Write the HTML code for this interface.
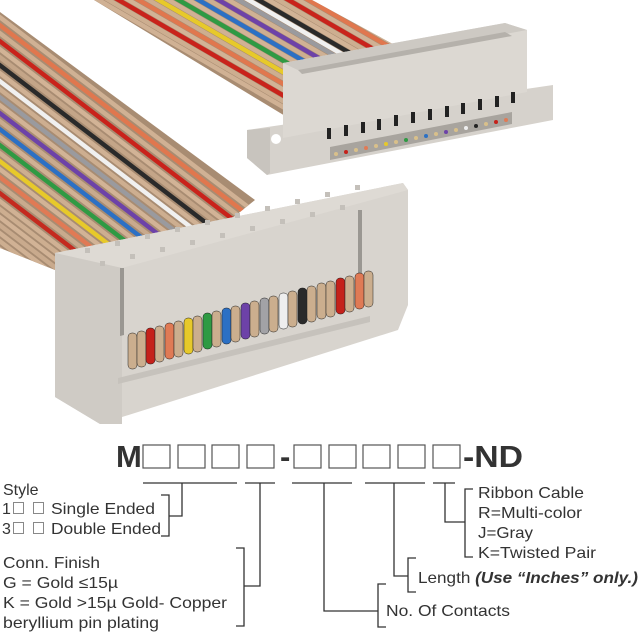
<!DOCTYPE html>
<html><head><meta charset="utf-8"><style>
html,body{margin:0;padding:0;background:#fff;width:640px;height:640px;overflow:hidden}
svg{display:block}
text{font-family:"Liberation Sans",sans-serif;fill:#333}
</style></head><body>
<svg width="640" height="640" viewBox="0 0 640 640" xmlns="http://www.w3.org/2000/svg">
<defs>
<clipPath id="cl"><polygon points="0,12 255,200 130,300 0,248"/></clipPath>
<clipPath id="cu"><polygon points="94,0 312,0 400,48 300,125"/></clipPath>
</defs>
<!-- left cable -->
<g clip-path="url(#cl)" stroke-width="4.5" fill="none" stroke-linecap="round">
<rect x="0" y="0" width="300" height="300" fill="#a88c72" stroke="none"/>
<line x1="-20" y1="2" x2="320" y2="262" stroke="#d0b194"/>
<line x1="-20" y1="10" x2="320" y2="270" stroke="#e0774e"/>
<line x1="-20" y1="18" x2="320" y2="278" stroke="#cdae90"/>
<line x1="-20" y1="26" x2="320" y2="286" stroke="#c9231b"/>
<line x1="-20" y1="34" x2="320" y2="294" stroke="#d2b396"/>
<line x1="-20" y1="42" x2="320" y2="302" stroke="#c4a588"/>
<line x1="-20" y1="50" x2="320" y2="310" stroke="#2a2a2a"/>
<line x1="-20" y1="58" x2="320" y2="318" stroke="#d0b194"/>
<line x1="-20" y1="66" x2="320" y2="326" stroke="#f0f0f0"/>
<line x1="-20" y1="74" x2="320" y2="334" stroke="#cdae90"/>
<line x1="-20" y1="82" x2="320" y2="342" stroke="#9a9a9e"/>
<line x1="-20" y1="90" x2="320" y2="350" stroke="#d2b396"/>
<line x1="-20" y1="98" x2="320" y2="358" stroke="#6d42a8"/>
<line x1="-20" y1="106" x2="320" y2="366" stroke="#c9aa8d"/>
<line x1="-20" y1="114" x2="320" y2="374" stroke="#2c70c4"/>
<line x1="-20" y1="122" x2="320" y2="382" stroke="#d0b194"/>
<line x1="-20" y1="130" x2="320" y2="390" stroke="#2f9a43"/>
<line x1="-20" y1="138" x2="320" y2="398" stroke="#cdae90"/>
<line x1="-20" y1="146" x2="320" y2="406" stroke="#e7c92a"/>
<line x1="-20" y1="154" x2="320" y2="414" stroke="#d2b396"/>
<line x1="-20" y1="162" x2="320" y2="422" stroke="#e07a55"/>
<line x1="-20" y1="170" x2="320" y2="430" stroke="#c9aa8d"/>
<line x1="-20" y1="178" x2="320" y2="438" stroke="#c42a1f"/>
<line x1="-20" y1="186" x2="320" y2="446" stroke="#d0b194"/>
<line x1="-20" y1="194" x2="320" y2="454" stroke="#cdae90"/>
<line x1="-20" y1="202" x2="320" y2="462" stroke="#d2b396"/>
<line x1="-20" y1="210" x2="320" y2="470" stroke="#c9aa8d"/>
<line x1="-20" y1="218" x2="320" y2="478" stroke="#d0b194"/>
<line x1="-20" y1="226" x2="320" y2="486" stroke="#cdae90"/>
<line x1="-20" y1="234" x2="320" y2="494" stroke="#d2b396"/>
<line x1="-20" y1="242" x2="320" y2="502" stroke="#c9aa8d"/>
</g>
<!-- upper cable -->
<g clip-path="url(#cu)" stroke-width="4.5" fill="none">
<rect x="90" y="0" width="320" height="130" fill="#a88c72" stroke="none"/>
<line x1="90" y1="-5" x2="340" y2="140" stroke="#d0b194"/>
<line x1="100" y1="-5" x2="350" y2="140" stroke="#cdae90"/>
<line x1="110" y1="-5" x2="360" y2="140" stroke="#c9231b"/>
<line x1="120" y1="-5" x2="370" y2="140" stroke="#d2b396"/>
<line x1="130" y1="-5" x2="380" y2="140" stroke="#e0774e"/>
<line x1="140" y1="-5" x2="390" y2="140" stroke="#cdae90"/>
<line x1="150" y1="-5" x2="400" y2="140" stroke="#e7c92a"/>
<line x1="160" y1="-5" x2="410" y2="140" stroke="#d0b194"/>
<line x1="170" y1="-5" x2="420" y2="140" stroke="#2f9a43"/>
<line x1="180" y1="-5" x2="430" y2="140" stroke="#d2b396"/>
<line x1="190" y1="-5" x2="440" y2="140" stroke="#2c70c4"/>
<line x1="200" y1="-5" x2="450" y2="140" stroke="#cdae90"/>
<line x1="210" y1="-5" x2="460" y2="140" stroke="#6d42a8"/>
<line x1="220" y1="-5" x2="470" y2="140" stroke="#d0b194"/>
<line x1="230" y1="-5" x2="480" y2="140" stroke="#9a9a9e"/>
<line x1="240" y1="-5" x2="490" y2="140" stroke="#f0f0f0"/>
<line x1="250" y1="-5" x2="500" y2="140" stroke="#2a2a2a"/>
<line x1="260" y1="-5" x2="510" y2="140" stroke="#d2b396"/>
<line x1="270" y1="-5" x2="520" y2="140" stroke="#cdae90"/>
<line x1="280" y1="-5" x2="530" y2="140" stroke="#c9231b"/>
<line x1="290" y1="-5" x2="540" y2="140" stroke="#d0b194"/>
<line x1="300" y1="-5" x2="550" y2="140" stroke="#e0774e"/>
<line x1="310" y1="-5" x2="560" y2="140" stroke="#d2b396"/>
</g>
<!-- top connector -->
<polygon points="247,130 553,85 553,120 267,175 247,158" fill="#d6d2cc"/>
<polygon points="247,130 270,128 270,173 267,175 247,158" fill="#c8c4be"/>
<circle cx="276" cy="139" r="5" fill="#fff"/>
<polygon points="283,63 505,23 527,30 527,92 283,138" fill="#dcd8d2"/>
<polygon points="283,63 505,23 527,30 302,72" fill="#cdc9c3"/>
<polygon points="298,70 505,32 512,36 302,74" fill="#b5b1ab"/>
<polygon points="330,147 512,112 512,124 330,160" fill="#a8a49e"/>
<g fill="#d9c08a">
<circle cx="336" cy="154" r="2"/><circle cx="346" cy="152" r="2" fill="#c5211a"/><circle cx="356" cy="150" r="2"/><circle cx="366" cy="148" r="2" fill="#e07a55"/><circle cx="376" cy="146" r="2"/><circle cx="386" cy="144" r="2" fill="#e7c92a"/><circle cx="396" cy="142" r="2"/><circle cx="406" cy="140" r="2" fill="#2f9a43"/><circle cx="416" cy="138" r="2"/><circle cx="426" cy="136" r="2" fill="#2c70c4"/><circle cx="436" cy="134" r="2"/><circle cx="446" cy="132" r="2" fill="#6d42a8"/><circle cx="456" cy="130" r="2"/><circle cx="466" cy="128" r="2" fill="#eee"/><circle cx="476" cy="126" r="2" fill="#222"/><circle cx="486" cy="124" r="2"/><circle cx="496" cy="122" r="2" fill="#c5211a"/><circle cx="506" cy="120" r="2" fill="#e07a55"/>
</g>
<g fill="#222">
<rect x="327" y="128" width="4" height="11"/><rect x="344" y="125" width="4" height="11"/><rect x="361" y="122" width="4" height="11"/><rect x="377" y="119" width="4" height="11"/><rect x="394" y="115" width="4" height="11"/><rect x="411" y="112" width="4" height="11"/><rect x="428" y="109" width="4" height="11"/><rect x="445" y="106" width="4" height="11"/><rect x="461" y="103" width="4" height="11"/><rect x="478" y="99" width="4" height="11"/><rect x="495" y="96" width="4" height="11"/><rect x="511" y="92" width="4" height="11"/>
</g>
<!-- bottom connector -->
<polygon points="55,253 403,183 408,190 408,305 398,330 100,424 55,397" fill="#d8d4ce"/>
<polygon points="55,253 403,183 408,190 122,268" fill="#dedad4"/>
<polygon points="55,253 122,268 122,424 100,424 55,397" fill="#cfcbc5"/>
<polygon points="120,268 124,268 124,335 120,336" fill="#9a9792"/>
<polygon points="358,210 362,210 362,280 358,280" fill="#9a9792"/>
<g fill="#c4c0ba">
<rect x="85" y="248" width="5" height="5"/><rect x="115" y="241" width="5" height="5"/><rect x="145" y="234" width="5" height="5"/><rect x="175" y="227" width="5" height="5"/><rect x="205" y="220" width="5" height="5"/><rect x="235" y="213" width="5" height="5"/><rect x="265" y="206" width="5" height="5"/><rect x="295" y="199" width="5" height="5"/><rect x="325" y="192" width="5" height="5"/><rect x="355" y="185" width="5" height="5"/>
<rect x="100" y="261" width="5" height="5"/><rect x="130" y="254" width="5" height="5"/><rect x="160" y="247" width="5" height="5"/><rect x="190" y="240" width="5" height="5"/><rect x="220" y="233" width="5" height="5"/><rect x="250" y="226" width="5" height="5"/><rect x="280" y="219" width="5" height="5"/><rect x="310" y="212" width="5" height="5"/><rect x="340" y="205" width="5" height="5"/>
</g>
<polygon points="118,378 370,316 370,322 118,384" fill="#c6c2bc"/>
<g stroke="#222" stroke-width="0.5">
<rect x="128" y="333" width="9" height="36" rx="4" fill="#cbae8e"/>
<rect x="137" y="331" width="9" height="36" rx="4" fill="#cbae8e"/>
<rect x="146" y="328" width="9" height="36" rx="4" fill="#c5211a"/>
<rect x="155" y="326" width="9" height="36" rx="4" fill="#cbae8e"/>
<rect x="165" y="323" width="9" height="36" rx="4" fill="#e07a55"/>
<rect x="174" y="321" width="9" height="36" rx="4" fill="#cbae8e"/>
<rect x="184" y="318" width="9" height="36" rx="4" fill="#e7c92a"/>
<rect x="193" y="316" width="9" height="36" rx="4" fill="#cbae8e"/>
<rect x="203" y="313" width="9" height="36" rx="4" fill="#2f9a43"/>
<rect x="212" y="311" width="9" height="36" rx="4" fill="#cbae8e"/>
<rect x="222" y="308" width="9" height="36" rx="4" fill="#2c70c4"/>
<rect x="231" y="306" width="9" height="36" rx="4" fill="#cbae8e"/>
<rect x="241" y="303" width="9" height="36" rx="4" fill="#6d42a8"/>
<rect x="250" y="301" width="9" height="36" rx="4" fill="#cbae8e"/>
<rect x="260" y="298" width="9" height="36" rx="4" fill="#a2a2a6"/>
<rect x="269" y="296" width="9" height="36" rx="4" fill="#cbae8e"/>
<rect x="279" y="293" width="9" height="36" rx="4" fill="#eeeeee"/>
<rect x="288" y="291" width="9" height="36" rx="4" fill="#cbae8e"/>
<rect x="298" y="288" width="9" height="36" rx="4" fill="#2a2a2a"/>
<rect x="307" y="286" width="9" height="36" rx="4" fill="#cbae8e"/>
<rect x="317" y="283" width="9" height="36" rx="4" fill="#cbae8e"/>
<rect x="326" y="281" width="9" height="36" rx="4" fill="#cbae8e"/>
<rect x="336" y="278" width="9" height="36" rx="4" fill="#c5211a"/>
<rect x="345" y="276" width="9" height="36" rx="4" fill="#cbae8e"/>
<rect x="355" y="273" width="9" height="36" rx="4" fill="#e07a55"/>
<rect x="364" y="271" width="9" height="36" rx="4" fill="#cbae8e"/>
</g>
<!-- part number -->
<g font-weight="bold" font-size="31">
<text x="116" y="467">M</text>
<text x="280" y="467">-</text>
<text x="463" y="467" textLength="60" lengthAdjust="spacingAndGlyphs">-ND</text>
</g>
<g fill="none" stroke="#555" stroke-width="1.2">
<rect x="143" y="445" width="27" height="23"/><rect x="178" y="445" width="27" height="23"/><rect x="212" y="445" width="27" height="23"/><rect x="247" y="445" width="27" height="23"/>
<rect x="294" y="445" width="27" height="23"/><rect x="329" y="445" width="27" height="23"/><rect x="363" y="445" width="27" height="23"/><rect x="398" y="445" width="27" height="23"/><rect x="433" y="445" width="27" height="23"/>
</g>
<g fill="none" stroke="#333" stroke-width="1.3">
<path d="M143,483H237M245,483H275M292,483H352M365,483H425M433,483H455"/>
<path d="M182,483V516H169M161,495H169V536H161"/>
<path d="M260,483V586H244M236,548H244V626H236"/>
<path d="M324,483V611H378M386,584H378V627H386"/>
<path d="M394,483V576H408M416,558H408V592H416"/>
<path d="M445,483V522H465M473,489H465V557H473"/>
</g>
<g font-size="16">
<text x="3" y="495">Style</text>
<text x="2" y="514">1</text><text x="51" y="514" textLength="104" lengthAdjust="spacingAndGlyphs">Single Ended</text>
<text x="2" y="534">3</text><text x="51" y="534" textLength="110" lengthAdjust="spacingAndGlyphs">Double Ended</text>
<text x="3" y="568" textLength="97" lengthAdjust="spacingAndGlyphs">Conn. Finish</text>
<text x="3" y="588" textLength="115" lengthAdjust="spacingAndGlyphs">G = Gold ≤15µ</text>
<text x="3" y="608" textLength="224" lengthAdjust="spacingAndGlyphs">K = Gold &gt;15µ Gold- Copper</text>
<text x="3" y="628" textLength="156" lengthAdjust="spacingAndGlyphs">beryllium pin plating</text>
<text x="386" y="616" textLength="124" lengthAdjust="spacingAndGlyphs">No. Of Contacts</text>
<text x="418" y="583" textLength="220" lengthAdjust="spacingAndGlyphs">Length <tspan font-weight="bold" font-style="italic">(Use “Inches” only.)</tspan></text>
<text x="478" y="498" textLength="106" lengthAdjust="spacingAndGlyphs">Ribbon Cable</text>
<text x="478" y="518" textLength="104" lengthAdjust="spacingAndGlyphs">R=Multi-color</text>
<text x="478" y="538" textLength="55" lengthAdjust="spacingAndGlyphs">J=Gray</text>
<text x="478" y="558" textLength="118" lengthAdjust="spacingAndGlyphs">K=Twisted Pair</text>
</g>
<g fill="none" stroke="#888" stroke-width="1">
<rect x="13.5" y="502.5" width="10" height="11"/><rect x="33.5" y="502.5" width="10" height="11"/>
<rect x="13.5" y="522.5" width="10" height="11"/><rect x="33.5" y="522.5" width="10" height="11"/>
</g>
</svg>
</body></html>
